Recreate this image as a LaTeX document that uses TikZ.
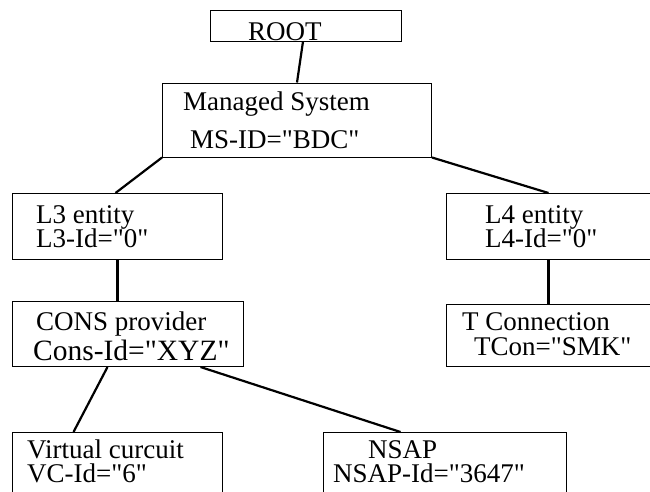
\documentclass[tikz,border=0pt]{standalone}
\usepackage{fontspec}
\setmainfont{Liberation Serif}[Ligatures=TeXOff]
\begin{document}
\begin{tikzpicture}[x=1pt,y=-1pt,
  box/.style={draw,line width=1pt,inner sep=0pt,anchor=north west},
  link/.style={line width=2.2pt},
  lbl/.style={anchor=base west,inner sep=0pt,text height=0.66em,text depth=0.18em,
              font=\fontsize{27}{30}\selectfont},
  big/.style={lbl,font=\fontsize{29.5}{33}\selectfont}]
\useasboundingbox (0,0) rectangle (650,491);
\clip (0,0) rectangle (650,491);

% boxes of the containment tree
\node[box,minimum width=191pt,minimum height=30.5pt] (root) at (210,10) {};
\node[box,minimum width=269pt,minimum height=74pt]   (ms)   at (162,82.5) {};
\node[box,minimum width=210pt,minimum height=66pt]   (l3)   at (12,193) {};
\node[box,minimum width=231pt,minimum height=65pt]   (cons) at (12,301) {};
\node[box,minimum width=214pt,minimum height=66pt]   (l4)   at (446,193) {};
\node[box,minimum width=214pt,minimum height=62pt]   (tcon) at (446,304) {};
\node[box,minimum width=210pt,minimum height=70pt]   (vc)   at (12,432) {};
\node[box,minimum width=243pt,minimum height=70pt]   (nsap) at (323,432) {};

% labels
\node[lbl] (t1)  at (248,40)  {ROOT};
\node[lbl] (t2)  at (183,110) {Managed System};
\node[lbl] (t3)  at (190,148) {MS-ID="BDC"};
\node[lbl] (t4)  at (36,223)  {L3 entity};
\node[lbl] (t5)  at (36,247)  {L3-Id="0"};
\node[lbl] (t6)  at (36,330)  {CONS provider};
\node[big] (t7)  at (33,360)  {Cons-Id="XYZ"};
\node[lbl] (t8)  at (485,223) {L4 entity};
\node[lbl] (t9)  at (485,247) {L4-Id="0"};
\node[lbl] (t10) at (462,330) {T Connection};
\node[lbl] (t11) at (474,355) {TCon="SMK"};
\node[lbl] (t12) at (27,458)  {Virtual curcuit};
\node[lbl] (t13) at (27,482)  {VC-Id="6"};
\node[lbl] (t14) at (368,458) {NSAP};
\node[lbl] (t15) at (333,482) {NSAP-Id="3647"};

% tree connectors
\draw[link] ([xshift=-3pt]root.south) -- (ms.north);
\draw[link] (ms.south west) -- ([xshift=-2pt]l3.north);
\draw[link] (ms.south east) -- ([xshift=-5pt]l4.north);
\draw[link] (l3.south) -- (l3.south |- cons.north);
\draw[link] ([xshift=-5pt]l4.south) -- ([xshift=-5pt]l4.south |- tcon.north);
\draw[link] ([xshift=-20.5pt]cons.south) -- ([xshift=-44pt]vc.north);
\draw[link] ([xshift=72.5pt]cons.south) -- ([xshift=-44.5pt]nsap.north);
\end{tikzpicture}
\end{document}
